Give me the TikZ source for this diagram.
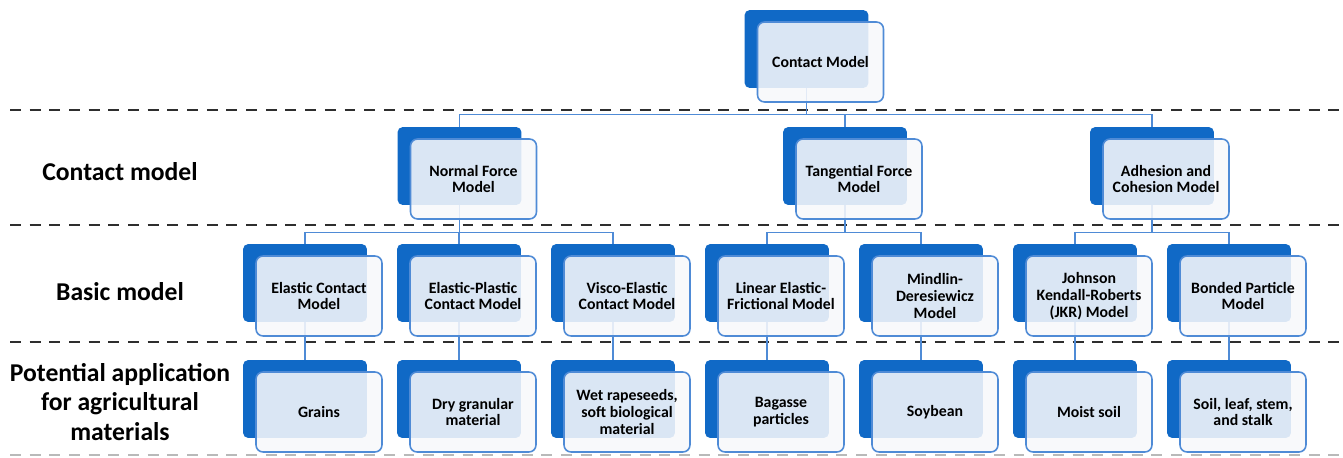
\documentclass[tikz,border=0pt]{standalone}
\usepackage{fontspec}
\setmainfont{Carlito}
\usepackage{tikz}
\usetikzlibrary{positioning, calc, backgrounds}
\definecolor{backblue}{HTML}{1069C6}
\definecolor{edgeblue}{HTML}{4F8BD6}
\definecolor{paleface}{HTML}{F7F8FB}
\definecolor{divgray}{HTML}{2E2E2E}
\tikzset{
	backbox/.style={rectangle, fill=backblue, rounded corners=3pt, minimum width=2.48cm,
		minimum height=1.56cm, inner sep=0pt},
	frontbox/.style={rectangle, draw=edgeblue, line width=0.9pt, fill=paleface,
		fill opacity=0.88, text opacity=1, rounded corners=4pt, minimum width=2.52cm,
		minimum height=1.6cm, align=center, inner sep=1pt,
		font=\fontsize{9}{9.6}\selectfont\bfseries},
	conn/.style={draw=edgeblue, line width=0.8pt},
	divider/.style={divgray, line width=1.7pt, dash pattern=on 6.2pt off 5pt},
	rowlbl/.style={align=center, font=\fontsize{14.6}{17}\selectfont\bfseries},
}
% back plate + front card, named <name>b and <name>
\newcommand{\modelnode}[4]{%
	\node[backbox] (#1b) at (#2,#3) {};
	\node[frontbox] (#1) at ($(#1b)+(14,13)$) {#4};
}

\begin{document}
\begin{tikzpicture}[x=0.02cm, y=-0.02cm]
	\useasboundingbox (0,0) rectangle (1343,457);

	% level labels
	\node[rowlbl] (lblcontact) at (120,172) {Contact model};
	\node[rowlbl] (lblbasic) at (120,292) {Basic model};
	\node[rowlbl] (lblapp) at (120,402) {Potential application\\for agricultural\\materials};

	% top
	\modelnode{cm}{806.5}{49}{Contact Model}
	% contact model types
	\modelnode{nf}{459.5}{166}{Normal Force\\Model}
	\modelnode{tf}{845}{166}{Tangential Force\\Model}
	\modelnode{ad}{1152}{166}{Adhesion and\\Cohesion Model}
	% basic models
	\modelnode{ec}{305}{283}{Elastic Contact\\Model}
	\modelnode{ep}{459}{283}{Elastic-Plastic\\Contact Model}
	\modelnode{ve}{613}{283}{Visco-Elastic\\Contact Model}
	\modelnode{le}{767}{283}{Linear Elastic-\\Frictional Model}
	\modelnode{md}{921}{283}{Mindlin-\\Deresiewicz\\Model}
	\modelnode{jk}{1075}{283}{Johnson\\Kendall-Roberts\\(JKR) Model}
	\modelnode{bp}{1229}{283}{Bonded Particle\\Model}
	% applications
	\modelnode{gr}{305}{399}{Grains}
	\modelnode{dg}{459}{399}{Dry granular\\material}
	\modelnode{wr}{613}{399}{Wet rapeseeds,\\soft biological\\material}
	\modelnode{bg}{767}{399}{Bagasse\\particles}
	\modelnode{sb}{921}{399}{Soybean}
	\modelnode{ms}{1075}{399}{Moist soil}
	\modelnode{sl}{1229}{399}{Soil, leaf, stem,\\and stalk}

	\begin{scope}[on background layer]
		% separators
		\draw[divider] (10,110) -- (1343,110);
		\draw[divider] (10,225) -- (1343,225);
		\draw[divider] (10,342) -- (1343,342);
		\draw[divider, draw=gray!55, line width=1pt] (10,455) -- (1343,455);

		\draw[conn] (cmb.south) -- ++(0,26) -| (nfb.north);
		\draw[conn] (cmb.south) -- ++(0,26) -| (tfb.north);
		\draw[conn] (cmb.south) -- ++(0,26) -| (adb.north);

		\draw[conn] (nfb.south) -- ++(0,27) -| (ecb.north);
		\draw[conn] (nfb.south) -- ++(0,27) -| (epb.north);
		\draw[conn] (nfb.south) -- ++(0,27) -| (veb.north);
		\draw[conn] (tfb.south) -- ++(0,27) -| (leb.north);
		\draw[conn] (tfb.south) -- ++(0,27) -| (mdb.north);
		\draw[conn] (adb.south) -- ++(0,27) -| (jkb.north);
		\draw[conn] (adb.south) -- ++(0,27) -| (bpb.north);

		\draw[conn] (ecb.south) -- (grb.north);
		\draw[conn] (epb.south) -- (dgb.north);
		\draw[conn] (veb.south) -- (wrb.north);
		\draw[conn] (leb.south) -- (bgb.north);
		\draw[conn] (mdb.south) -- (sbb.north);
		\draw[conn] (jkb.south) -- (msb.north);
		\draw[conn] (bpb.south) -- (slb.north);
	\end{scope}
\end{tikzpicture}
\end{document}
